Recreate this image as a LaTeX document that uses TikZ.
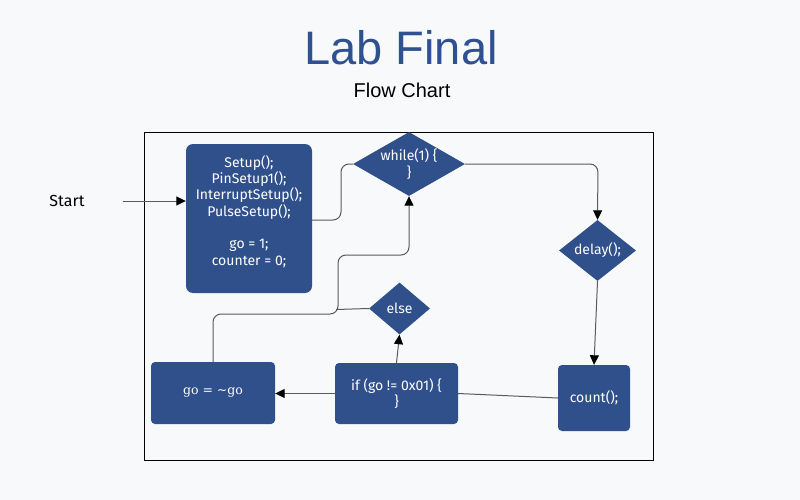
\documentclass[tikz,border=0pt]{standalone}
\usepackage{fontspec}
\setmainfont{Fira Sans}
\newfontfamily\headfont{Liberation Sans}
\newfontfamily\serifbox{DejaVu Serif}
\usetikzlibrary{shapes.geometric,arrows.meta}
\definecolor{pagebg}{HTML}{F8F9FB}
\definecolor{boxblue}{HTML}{30508C}
\definecolor{titleblue}{HTML}{2F5091}
\definecolor{wire}{HTML}{5A5A5A}
\tikzset{
  boxfont/.style={font=\fontsize{14}{16.3}\selectfont},
  codebox/.style={draw=none, fill=boxblue, text=white, rounded corners=4pt,
    align=center, inner sep=0pt, boxfont},
  decision/.style={diamond, draw=none, fill=boxblue, inner sep=0pt},
  decisiontext/.style={text=white, align=center, inner sep=0pt, boxfont},
  wireline/.style={draw=wire, line width=1pt},
  flow/.style={wireline, -{Triangle[length=9.5pt,width=9pt,color=black,fill=black]}},
}
\begin{document}
\begin{tikzpicture}[x=1pt,y=-1pt]
  % page
  \fill[pagebg] (0,0) rectangle (800,500);
  \useasboundingbox (0,0) rectangle (800,500);

  % headings
  \node[anchor=base, text=titleblue, font=\headfont\fontsize{47}{50}\selectfont, inner sep=0pt] (title) at (401,65) {Lab Final};
  \node[anchor=base, font=\headfont\fontsize{20}{22}\selectfont, inner sep=0pt] (subtitle) at (402,98) {Flow Chart};

  % frame around the chart
  \draw[line width=0.8pt] (144.5,132) rectangle (653.5,460);

  % blocks (the setup text sits a little above the box centre)
  \node[codebox, rounded corners=7pt, minimum width=126pt, minimum height=149pt] (setup) at (249,218.5)
    {Setup();\\PinSetup1();\\InterruptSetup();\\PulseSetup();\\[16.3pt]go = 1;\\counter = 0;\\\mbox{}};
  \node[decision, minimum width=112pt, minimum height=64pt] (while) at (409,164) {};
  \node[decisiontext] (whiletext) at (while.center) {while(1) \{\\\}};
  \node[decision, minimum width=77pt, minimum height=61pt] (delay) at (597.5,250.5) {};
  \node[decisiontext] (delaytext) at (delay.center) {delay();};
  \node[codebox, minimum width=72pt, minimum height=66pt] (count) at (594,398) {count();};
  \node[codebox, minimum width=123pt, minimum height=61pt] (if) at (396.5,393.5) {if (go != 0x01) \{\\\}};
  \node[decision, minimum width=61pt, minimum height=52pt] (else) at (399.5,308.5) {};
  \node[decisiontext] (elsetext) at (else.center) {else};
  \node[codebox, minimum width=124pt, minimum height=62pt, font=\serifbox\fontsize{12.5}{14}\selectfont] (toggle) at (213,393) {go = \textasciitilde go};

  % entry
  \node[font=\fontsize{16}{18}\selectfont, inner sep=0pt] (start) at (67,201) {Start};
  \coordinate (entry) at (123,201);
  \draw[flow] (entry) -- (setup.west |- entry);

  % connectors
  \draw[wireline, rounded corners=8pt] (setup.east |- 0,220) -- (341,220) -- (341,164) -- (while.west);
  \draw[flow, rounded corners=8pt] (while.east) -- (598,164) -- (delay.north);
  \draw[flow] (delay.south) -- (count.north);
  \draw[wireline] (if.east) -- (count.west);
  \draw[flow] (if.north) -- (else.south);
  \draw[flow] (if.west) -- (toggle.east |- if.west);
  \draw[flow, rounded corners=8pt] (toggle.north) -- (213,314) -- (338,314) -- (338,255) -- (409,255) -- (while.south);
  \coordinate (join) at (336,309.5);
  \draw[wireline] (else.west) -- (join);
\end{tikzpicture}
\end{document}
